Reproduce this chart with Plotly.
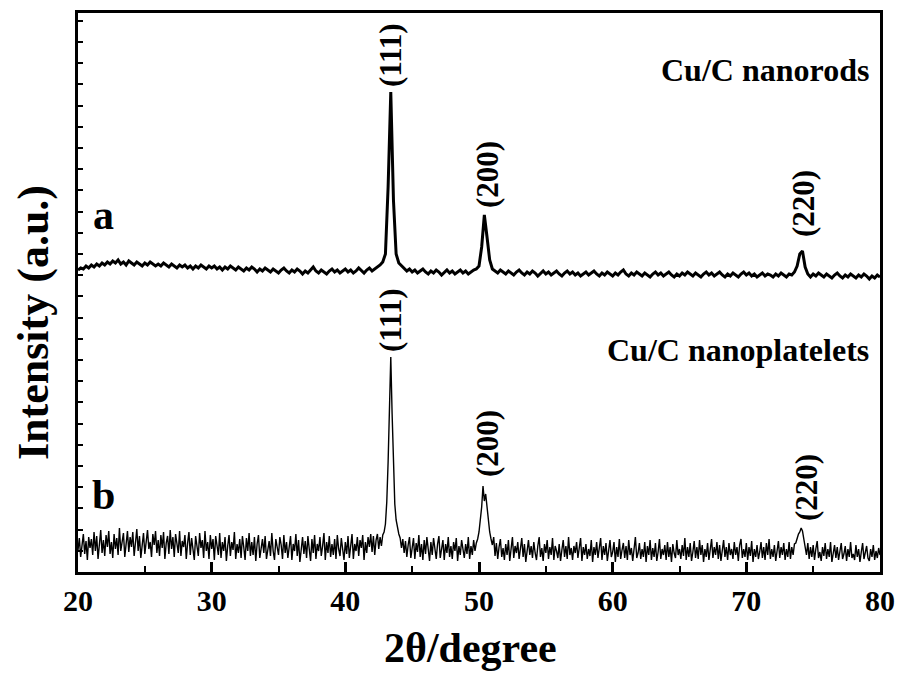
import numpy as np
import plotly.graph_objects as go

# ---- data (intensity in arbitrary units) ----
scan_a_start, scan_a_step = 20.0, 0.2
scan_b_start, scan_b_step = 20.0, 0.1

intensity_a = [
    302, 304, 303, 306, 304, 307, 305, 308, 306, 309,
    307, 310, 308, 311, 309, 312, 308, 310, 307, 311,
    309, 307, 310, 308, 306, 309, 307, 310, 308, 306,
    308, 306, 309, 307, 305, 308, 306, 304, 307, 305,
    307, 304, 306, 303, 306, 304, 307, 305, 303, 306,
    304, 306, 303, 305, 302, 305, 303, 306, 304, 302,
    305, 303, 301, 304, 302, 305, 303, 300, 303, 301,
    304, 302, 300, 303, 301, 299, 302, 304, 301, 299,
    302, 300, 303, 301, 298, 301, 299, 302, 305, 301,
    299, 302, 300, 298, 301, 303, 300, 302, 299, 301,
    303, 300, 302, 299, 301, 304, 301, 299, 302, 304,
    301, 303, 305, 307, 310, 318, 385, 480, 372, 318,
    309, 306, 304, 301, 303, 300, 302, 299, 301, 303,
    300, 298, 301, 299, 302, 300, 297, 300, 302, 299,
    301, 298, 300, 302, 299, 301, 298, 300, 302, 303,
    306, 325, 357, 335, 312, 303, 301, 299, 302, 300,
    298, 301, 299, 297, 300, 302, 299, 297, 300, 298,
    301, 299, 296, 299, 301, 298, 300, 297, 299, 301,
    298, 296, 299, 301, 298, 300, 297, 299, 296, 298,
    300, 297, 299, 301, 298, 296, 299, 297, 300, 298,
    296, 299, 297, 300, 302, 298, 296, 299, 297, 300,
    298, 296, 299, 297, 295, 298, 300, 297, 299, 296,
    298, 300, 297, 295, 298, 296, 299, 297, 300, 298,
    296, 299, 297, 295, 298, 300, 297, 299, 296, 298,
    300, 297, 295, 298, 296, 299, 297, 295, 298, 300,
    297, 299, 296, 298, 295, 297, 299, 296, 298, 297,
    295, 298, 296, 299, 297, 295, 298, 297, 300, 306,
    318, 321, 305, 298, 295, 298, 296, 299, 297, 295,
    298, 296, 294, 297, 299, 296, 294, 297, 295, 298,
    296, 294, 297, 295, 298, 296, 293, 296, 294, 297,
    295,
]

intensity_b = [
    22, 34, 15, 29, 38, 18, 31, 12, 35, 24,
    33, 17, 40, 21, 36, 13, 28, 42, 19, 32,
    16, 37, 25, 41, 18, 30, 14, 38, 23, 34,
    17, 44, 21, 31, 39, 15, 28, 41, 20, 35,
    25, 40, 16, 32, 43, 21, 36, 14, 29, 39,
    18, 34, 42, 23, 30, 15, 38, 27, 41, 19,
    32, 16, 37, 24, 40, 13, 29, 36, 18, 42,
    23, 35, 15, 38, 27, 19, 41, 16, 31, 25,
    37, 13, 29, 40, 17, 34, 23, 12, 36, 27,
    16, 39, 24, 32, 14, 41, 21, 30, 13, 37,
    23, 33, 12, 36, 27, 17, 39, 14, 30, 21,
    35, 11, 26, 37, 16, 30, 22, 40, 13, 28,
    19, 33, 14, 36, 25, 12, 34, 21, 39, 16,
    30, 17, 35, 11, 28, 37, 14, 26, 33, 19,
    36, 13, 24, 31, 16, 39, 21, 12, 33, 25,
    17, 35, 27, 13, 37, 19, 30, 14, 26, 36,
    12, 28, 21, 38, 16, 32, 10, 26, 35, 18,
    31, 14, 36, 23, 11, 33, 19, 37, 13, 28,
    21, 35, 16, 26, 39, 12, 30, 19, 36, 15,
    28, 17, 33, 13, 37, 23, 16, 34, 21, 12,
    30, 18, 36, 14, 26, 38, 13, 28, 21, 35,
    16, 32, 24, 37, 12, 30, 19, 35, 25, 38,
    20, 36, 17, 32, 38, 23, 35, 26, 37, 40,
    48, 70, 110, 172, 215, 158, 102, 68, 52, 44,
    38, 34, 24, 33, 19, 31, 15, 27, 35, 14,
    25, 34, 13, 29, 20, 37, 15, 28, 12, 32,
    18, 35, 23, 11, 30, 17, 34, 25, 13, 28,
    36, 14, 24, 32, 12, 28, 19, 35, 15, 26,
    13, 30, 21, 34, 11, 26, 17, 32, 23, 14,
    28, 18, 35, 13, 26, 17, 32, 21, 29, 33,
    40, 50, 65, 86, 71, 78, 64, 50, 40, 33,
    27, 35, 16, 29, 13, 25, 33, 15, 24, 12,
    28, 17, 32, 11, 22, 35, 14, 26, 19, 30,
    13, 24, 34, 15, 28, 10, 22, 32, 17, 26,
    14, 30, 19, 12, 26, 35, 15, 24, 11, 28,
    19, 32, 13, 25, 17, 34, 12, 26, 21, 14,
    28, 11, 22, 32, 15, 26, 13, 35, 17, 24,
    12, 26, 19, 30, 14, 22, 34, 11, 25, 17,
    28, 13, 23, 16, 32, 10, 25, 17, 30, 14,
    22, 34, 12, 26, 17, 29, 11, 24, 32, 15,
    20, 30, 10, 25, 15, 33, 13, 22, 29, 14,
    26, 12, 32, 17, 24, 11, 22, 35, 14, 19,
    29, 13, 23, 15, 30, 10, 26, 17, 32, 12,
    24, 15, 29, 11, 20, 33, 13, 23, 17, 27,
    12, 30, 15, 25, 10, 28, 19, 14, 32, 17,
    23, 13, 27, 16, 34, 12, 25, 15, 29, 11,
    20, 31, 14, 25, 13, 32, 17, 27, 10, 23,
    15, 29, 12, 23, 33, 14, 25, 17, 30, 13,
    27, 11, 20, 32, 15, 25, 12, 29, 17, 23,
    13, 30, 17, 25, 11, 27, 33, 14, 23, 15,
    29, 12, 25, 16, 31, 10, 23, 15, 27, 13,
    20, 30, 14, 25, 12, 29, 17, 33, 13, 23,
    15, 27, 11, 23, 31, 14, 25, 17, 29, 12,
    23, 15, 30, 13, 25, 17, 28, 29, 34, 38,
    40, 44, 41, 34, 27, 17, 29, 13, 25, 15,
    27, 12, 23, 31, 14, 20, 11, 25, 16, 29,
    13, 23, 15, 30, 10, 20, 27, 14, 25, 12,
    20, 29, 13, 18, 26, 11, 23, 15, 30, 14,
    18, 12, 27, 15, 23, 10, 20, 29, 13, 19,
    26, 14, 11, 23, 15, 27, 12, 21, 14, 24,
    17,
]

two_theta_a = np.round(scan_a_start + scan_a_step * np.arange(len(intensity_a)), 2)
two_theta_b = np.round(scan_b_start + scan_b_step * np.arange(len(intensity_b)), 2)

# labels: (text, 2theta, intensity position)
peak_labels_a = [("(111)", 43.35, 517), ("(200)", 50.6, 397), ("(220)", 74.24, 368)]
peak_labels_b = [("(111)", 43.35, 252), ("(200)", 50.6, 128), ("(220)", 74.46, 85)]
sample_labels = [("a", 21.87, 357), ("b", 21.9, 77)]
series_names = [("Cu/C nanorods", 79.3, 502), ("Cu/C nanoplatelets", 79.3, 222)]
x_title = "2θ/degree"
y_title = "Intensity (a.u.)"

FONT = "Liberation Serif"
W, H = 901, 673
L, R, T, B = 78, 21, 13, 101
PH = H - T - B
PW = W - L - R

fig = go.Figure()
fig.add_trace(go.Scatter(x=two_theta_a, y=intensity_a, mode="lines",
                         line=dict(color="black", width=3), showlegend=False))
fig.add_trace(go.Scatter(x=two_theta_b, y=intensity_b, mode="lines",
                         line=dict(color="black", width=1.4), showlegend=False))

ann = []
for t, x, y in peak_labels_a + peak_labels_b:
    ann.append(dict(x=x, y=y, text=t, textangle=-90, showarrow=False,
                    font=dict(family=FONT, size=31, color="black", weight="bold")))
for t, x, y in sample_labels:
    ann.append(dict(x=x, y=y, text=t, showarrow=False,
                    font=dict(family=FONT, size=42, color="black", weight="bold")))
for t, x, y in series_names:
    ann.append(dict(x=x, y=y, text=t, showarrow=False, xanchor="right",
                    font=dict(family=FONT, size=32, color="black", weight="bold")))
# axis titles
ann.append(dict(xref="paper", yref="paper", x=(470 - L) / PW, y=(H - B - 648) / PH,
                text=x_title, showarrow=False, xanchor="center", yanchor="middle",
                font=dict(family=FONT, size=42, color="black", weight="bold")))
ann.append(dict(xref="paper", yref="paper", x=(33 - L) / PW, y=(H - B - 323) / PH,
                text=y_title, textangle=-90, showarrow=False, xanchor="center", yanchor="middle",
                font=dict(family=FONT, size=44, color="black", weight="bold")))
fig.update_layout(annotations=ann)

fig.update_layout(
    width=W, height=H,
    margin=dict(l=L, r=R, t=T, b=B, autoexpand=False),
    paper_bgcolor="white", plot_bgcolor="white",
    xaxis=dict(range=[20, 80], dtick=10, tick0=20, ticks="inside", ticklen=10, tickwidth=2.5,
               tickcolor="black", showline=True, linewidth=3, linecolor="black", mirror=True,
               showgrid=False, zeroline=False, automargin=False,
               minor=dict(dtick=5, ticks="inside", ticklen=6, tickwidth=2, tickcolor="black"),
               tickfont=dict(family=FONT, size=30, color="black", weight="bold")),
    yaxis=dict(range=[0, 559], dtick=21.2, tick0=0, ticks="inside", ticklen=5, tickwidth=1.5,
               tickcolor="black", showticklabels=False, showline=True, linewidth=3,
               linecolor="black", mirror=True, showgrid=False, zeroline=False, automargin=False),
)

fig.write_html("out.html", config={"displayModeBar": False},
               post_script="document.body.style.margin='0';document.body.style.overflow='hidden';")
